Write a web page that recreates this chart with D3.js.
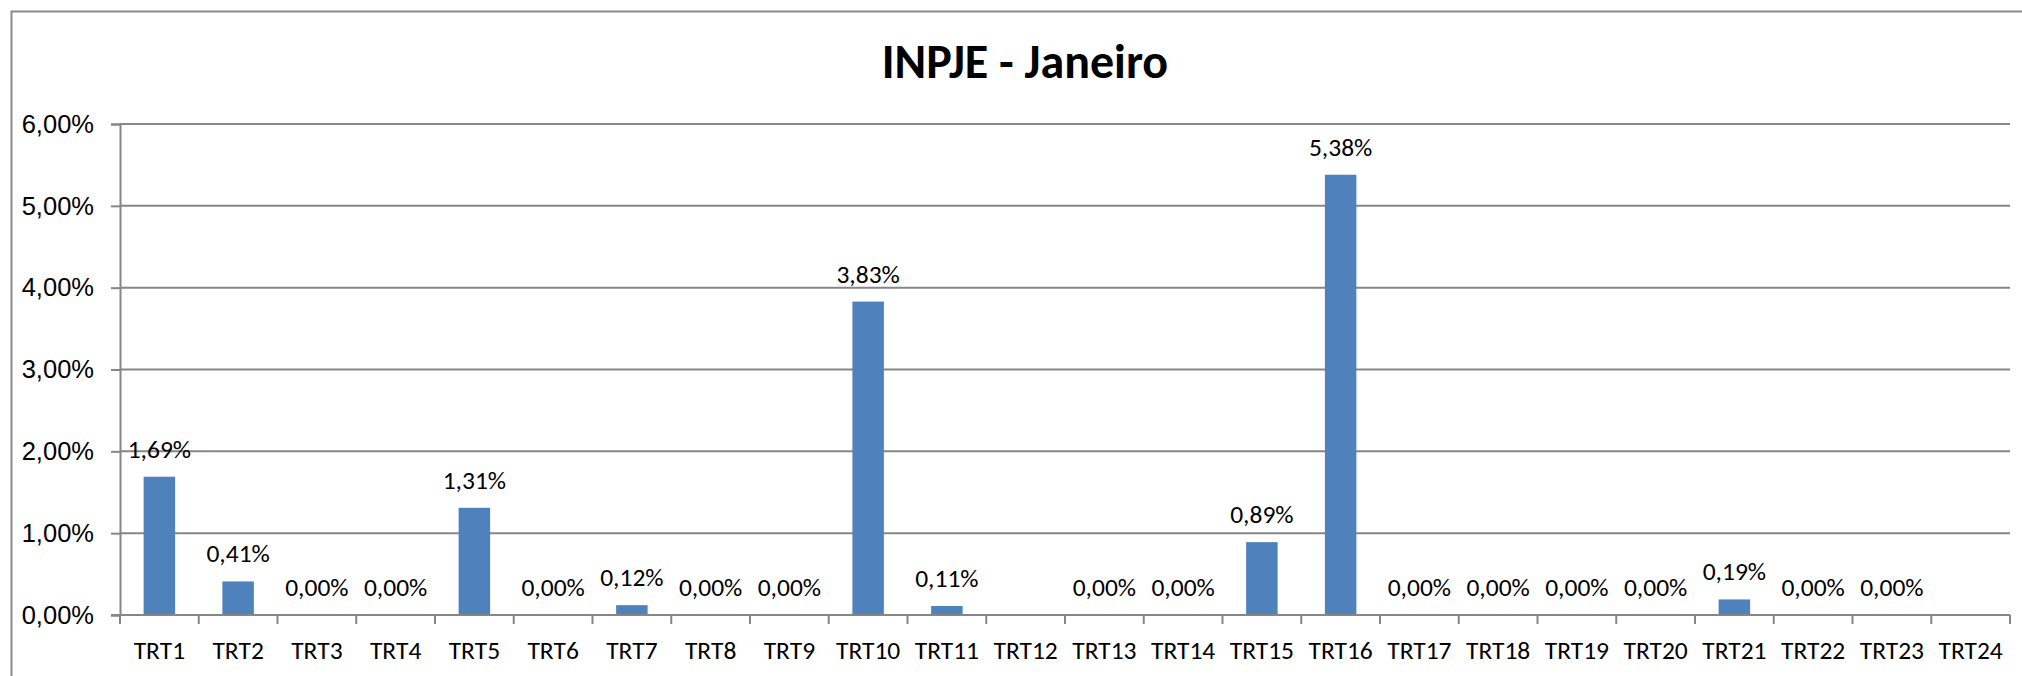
<!DOCTYPE html>
<html>
<head>
<meta charset="utf-8">
<script src="https://cdn.jsdelivr.net/npm/d3@7"></script>
<style>
  body { margin: 0; background: #fff; }
  svg { display: block; font-family: Calibri, Carlito, Lato, sans-serif; }
</style>
</head>
<body>
<svg id="chart" width="2022" height="676"></svg>
<script>
let categories = ["TRT1","TRT2","TRT3","TRT4","TRT5","TRT6","TRT7","TRT8","TRT9","TRT10","TRT11","TRT12",
                  "TRT13","TRT14","TRT15","TRT16","TRT17","TRT18","TRT19","TRT20","TRT21","TRT22","TRT23","TRT24"];
// percent values, null = no data (no label drawn)
let values = [1.69,0.41,0,0,1.31,0,0.12,0,0,3.83,0.11,null,
              0,0,0.89,5.38,0,0,0,0,0.19,0,0,null];
let yTicks = [0,1,2,3,4,5,6];
let title = "INPJE - Janeiro";

let svg = d3.select("#chart");
let opt = {left: 120, right: 2010, top: 124, bottom: 615, grid: "#868686", bar: "#4F81BD", fs: "25.5px"};
let fmt = v => v.toFixed(2).replace(".", ",") + "%";

// outer chart border (open on the right and bottom, like the crop)
svg.append("path")
    .attr("d", "M11.5,676 V11.5 H2022")
    .style("fill", "none")
    .style("stroke", "#8a8a8a")
    .style("stroke-width", 2);

svg.append("text")
    .attr("x", 1025).attr("y", 78)
    .attr("text-anchor", "middle")
    .style("font-weight", "bold")
    .style("font-size", "48px")
    .text(title);

let xb = d3.scaleBand().domain(categories).range([opt.left, opt.right]);
let y = d3.scaleLinear().domain([0, 6]).range([opt.bottom, opt.top]);

// gridlines
svg.append("g")
    .selectAll("line")
    .data(yTicks.slice(1))
    .enter().append("line")
    .attr("x1", opt.left).attr("x2", opt.right)
    .attr("y1", d => y(d)).attr("y2", d => y(d))
    .style("stroke", opt.grid).style("stroke-width", 2);

// y axis
let axisY = svg.append("g")
    .attr("transform", "translate(" + opt.left + ",0)")
    .call(d3.axisLeft(y).tickValues(yTicks).tickSize(9).tickPadding(17).tickFormat(fmt));
axisY.select(".domain").style("stroke", opt.grid).style("stroke-width", 2);
axisY.selectAll(".tick line").style("stroke", opt.grid).style("stroke-width", 2);
axisY.selectAll("text").style("font-size", opt.fs).style("fill", "#000").attr("font-family", null);

// bars
let pts = values.map((v, i) => ({c: categories[i], v: v})).filter(d => d.v !== null);
svg.append("g")
    .selectAll("rect")
    .data(pts)
    .enter().append("rect")
    .attr("x", d => xb(d.c) + xb.bandwidth() * 0.3)
    .attr("width", xb.bandwidth() * 0.4)
    .attr("y", d => y(d.v))
    .attr("height", d => opt.bottom - y(d.v))
    .style("fill", opt.bar);

// x axis
let axisX = svg.append("g")
    .attr("transform", "translate(0," + opt.bottom + ")");
axisX.append("line")
    .attr("x1", opt.left - 9).attr("x2", opt.right)
    .style("stroke", opt.grid).style("stroke-width", 2);
axisX.selectAll(".tk")
    .data(d3.range(categories.length + 1))
    .enter().append("line")
    .attr("class", "tk")
    .attr("x1", i => opt.left + i * xb.step()).attr("x2", i => opt.left + i * xb.step())
    .attr("y1", 0).attr("y2", 9)
    .style("stroke", opt.grid).style("stroke-width", 2);
axisX.selectAll("text")
    .data(categories)
    .enter().append("text")
    .attr("x", d => xb(d) + xb.bandwidth() / 2)
    .attr("y", 44)
    .attr("text-anchor", "middle")
    .style("font-size", opt.fs)
    .text(d => d);

// data labels
svg.append("g")
    .selectAll("text")
    .data(pts)
    .enter().append("text")
    .attr("x", d => xb(d.c) + xb.bandwidth() / 2)
    .attr("y", d => y(d.v) - 19)
    .attr("text-anchor", "middle")
    .style("font-size", opt.fs)
    .text(d => fmt(d.v));
</script>
</body>
</html>
